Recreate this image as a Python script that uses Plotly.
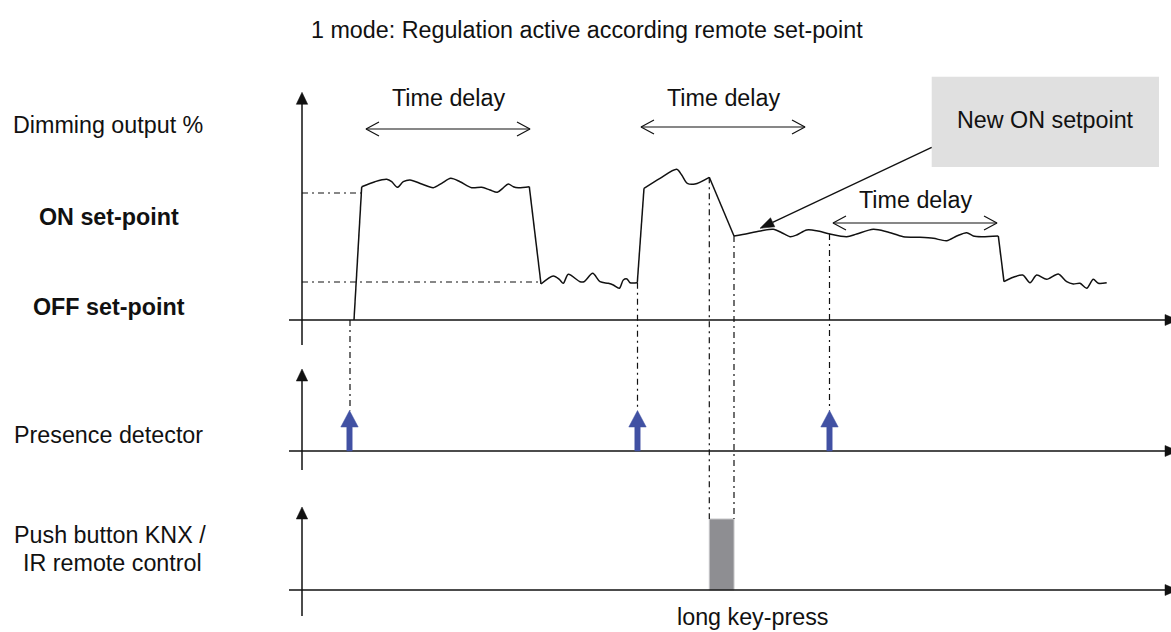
import numpy as np
import plotly.graph_objects as go

W, H = 1171, 632

# ---------------- text ----------------
title_text = "1 mode: Regulation active according remote set-point"
label_dimming = "Dimming output %"
label_on = "ON set-point"
label_off = "OFF set-point"
label_presence = "Presence detector"
label_push = ["Push button KNX /", "IR remote control"]
label_delay = "Time delay"
label_new_on = "New ON setpoint"
label_keypress = "long key-press"

# ---------------- schematic values (diagram units = pixels) ----------------
axis_x0 = 302
dim_base, pres_base, push_base = 320, 451, 590
on_level, off_level = 193, 282

start_pt = (354, 320)
on1_x = [361.7, 375, 386.7, 391.7, 397.3, 403.3, 410, 421.7, 433.3, 441.7, 450.7, 460,
         471.7, 481.7, 490, 497.3, 502.7, 508.3, 513.3, 518.3, 529.3]
on1_y = [186.7, 181.7, 179.3, 181.7, 187.3, 181.7, 180, 184, 187.7, 183.3, 178.3, 181.7,
         187.7, 187.3, 190, 192.3, 188.3, 184, 186.7, 187.7, 186.7]
off1_x = [541, 553.3, 559.3, 563.3, 568.3, 580, 584, 592.7, 600, 608.3, 613.3, 619.3,
          623.3, 627, 630, 637.3]
off1_y = [284, 276, 279.3, 283.3, 274.3, 281.7, 281.7, 273.3, 281.7, 283.3, 285, 288.3,
          280, 279, 282.7, 282.7]
on2_x = [644, 660, 676.7, 681.7, 687.3, 695, 709.3]
on2_y = [188.3, 178.3, 169.3, 175, 183.3, 184, 177.3]
new_x = [734, 748, 761.7, 773.3, 781.7, 790, 796.7, 806.7, 816.7, 830, 846.7, 856.7, 873.3,
         886.7, 903.3, 920, 933.3, 946.7, 956.7, 966.7, 973.3, 981.7, 998.3]
new_y = [236, 233.5, 230.7, 229.3, 232.7, 236.7, 235, 230, 230.7, 234, 236.7, 234, 229.3,
         231.7, 236.7, 237.3, 238.3, 240.7, 236, 232.7, 236, 236.7, 236]
off2_x = [1004, 1013.3, 1022.7, 1030, 1036.7, 1046.7, 1058.3, 1066.7, 1073.3, 1080, 1086.7,
          1093.3, 1098.3, 1106.7]
off2_y = [281.7, 277.3, 275, 282.7, 275, 279.3, 274, 281.7, 284, 283.3, 288.3, 279.3,
          283.3, 282.7]

presence_x = [349.5, 637.5, 829.5]
presence_tip = 410.5
key_x0, key_x1, key_top = 709.3, 734, 519

guides = [  # x, y_from, y_to
    (350, 320, presence_tip),
    (637.5, 282.7, presence_tip),
    (709.3, 177.3, key_top),
    (734, 236, key_top),
    (829.5, 234, presence_tip),
]

delays = [  # x_start, x_end, y, label_y
    (366, 530, 129, 98),
    (641, 805, 127, 98),
    (833, 997, 223, 200),
]

box = (931.7, 1159, 76.7, 167)
leader_from = (931.7, 147.3)
leader_to = (760, 228.3)

BLACK = "#111111"
BLUE = "#4151a3"
FONT = "Liberation Sans, Arial, Helvetica, sans-serif"
FS = 23.3

fig = go.Figure()


def line(xs, ys, width=1.5, color=BLACK, dash="solid", shape="linear"):
    fig.add_trace(go.Scatter(x=xs, y=ys, mode="lines", hoverinfo="skip", showlegend=False,
                             line=dict(color=color, width=width, dash=dash, shape=shape,
                                       smoothing=0.8)))


def poly(xs, ys, color):
    fig.add_trace(go.Scatter(x=xs, y=ys, mode="lines", fill="toself", fillcolor=color,
                             hoverinfo="skip", showlegend=False,
                             line=dict(color=color, width=0.5)))


# box for the "New ON setpoint" note
fig.add_shape(type="rect", x0=box[0], x1=box[1], y0=box[2], y1=box[3],
              fillcolor="#e0e0e0", line=dict(width=0), layer="below")

# gray bar for the long key press
fig.add_shape(type="rect", x0=key_x0, x1=key_x1, y0=key_top, y1=push_base,
              fillcolor="#8e8e92", line=dict(color="#c4c4c6", width=1), layer="below")

# axes
for base, top_tip, bottom in [(dim_base, 92.3, 345), (pres_base, 369, 470), (push_base, 507, 616)]:
    line([axis_x0, axis_x0], [bottom, top_tip + 10], width=1.5)
    poly([axis_x0 - 5.7, axis_x0, axis_x0 + 5.7, axis_x0 - 5.7],
         [top_tip + 12, top_tip, top_tip + 12, top_tip + 12], BLACK)
    line([289, 1166], [base, base], width=1.5)
    poly([1165, 1178, 1165, 1165], [base - 5.5, base, base + 5.5, base - 5.5], BLACK)

# set-point guides (dash-dot)
DD = "6px,4px,2px,4px"
line([axis_x0, on1_x[0]], [on_level, on_level], width=1.2, dash=DD)
line([axis_x0, off1_x[0]], [off_level, off_level], width=1.2, dash=DD)
for gx, gy0, gy1 in guides:
    line([gx, gx], [gy0, gy1], width=1.2, dash=DD)

# dimming waveform: wiggly segments + straight transitions
segs = [(on1_x, on1_y), (off1_x, off1_y), (on2_x, on2_y), (new_x, new_y), (off2_x, off2_y)]
prev = start_pt
for sx, sy in segs:
    line([prev[0], sx[0]], [prev[1], sy[0]], width=1.5)
    line(sx, sy, width=1.5, shape="spline")
    prev = (sx[-1], sy[-1])

# presence detector arrows
ax_, ay_ = [], []
for px in presence_x:
    ax_ += [px - 2.7, px - 2.7, px - 8.7, px, px + 8.7, px + 2.7, px + 2.7, px - 2.7, None]
    ay_ += [pres_base, presence_tip + 16.5, presence_tip + 16.5, presence_tip,
            presence_tip + 16.5, presence_tip + 16.5, pres_base, pres_base, None]
poly(ax_, ay_, BLUE)

# time delay double arrows
for x0, x1, y, ly in delays:
    line([x0, x1], [y, y], width=1.2)
    line([x0 + 13, x0, x0 + 13], [y - 7, y, y + 7], width=1.2)
    line([x1 - 13, x1, x1 - 13], [y - 7, y, y + 7], width=1.2)
    fig.add_annotation(x=(x0 + x1) / 2, y=ly, text=label_delay, showarrow=False,
                       font=dict(size=FS, color=BLACK, family=FONT))

# leader arrow
fx, fy = leader_from
tx, ty = leader_to
d = np.array([fx - tx, fy - ty])
d = d / np.linalg.norm(d)
nrm = np.array([-d[1], d[0]])
back = np.array([tx, ty]) + d * 14
line([fx, back[0]], [fy, back[1]], width=1.3)
p1 = back + nrm * 5
p2 = back - nrm * 5
poly([tx, p1[0], p2[0], tx], [ty, p1[1], p2[1], ty], BLACK)


def text(x, y, s, anchor="left", bold=False):
    fig.add_annotation(x=x, y=y, text=f"<b>{s}</b>" if bold else s, showarrow=False,
                       xanchor=anchor, yanchor="middle",
                       font=dict(size=FS, color=BLACK, family=FONT))


text(587, 30, title_text, anchor="center")
text(11, 125, label_dimming)
text(37, 217, label_on, bold=True)
text(31, 307, label_off, bold=True)
text(12, 435, label_presence)
text(110, 535, label_push[0], anchor="center")
text(112, 563, label_push[1], anchor="center")
text((box[0] + box[1]) / 2, 120, label_new_on, anchor="center")
text(753, 617, label_keypress, anchor="center")

fig.update_layout(
    width=W, height=H, margin=dict(l=0, r=0, t=0, b=0),
    paper_bgcolor="white", plot_bgcolor="white",
    xaxis=dict(range=[0, W], visible=False, fixedrange=True),
    yaxis=dict(range=[H, 0], visible=False, fixedrange=True),
    showlegend=False,
)

fig.write_html("out.html", config={"displayModeBar": False},
               post_script="document.body.style.margin='0';document.body.style.overflow='hidden';")
